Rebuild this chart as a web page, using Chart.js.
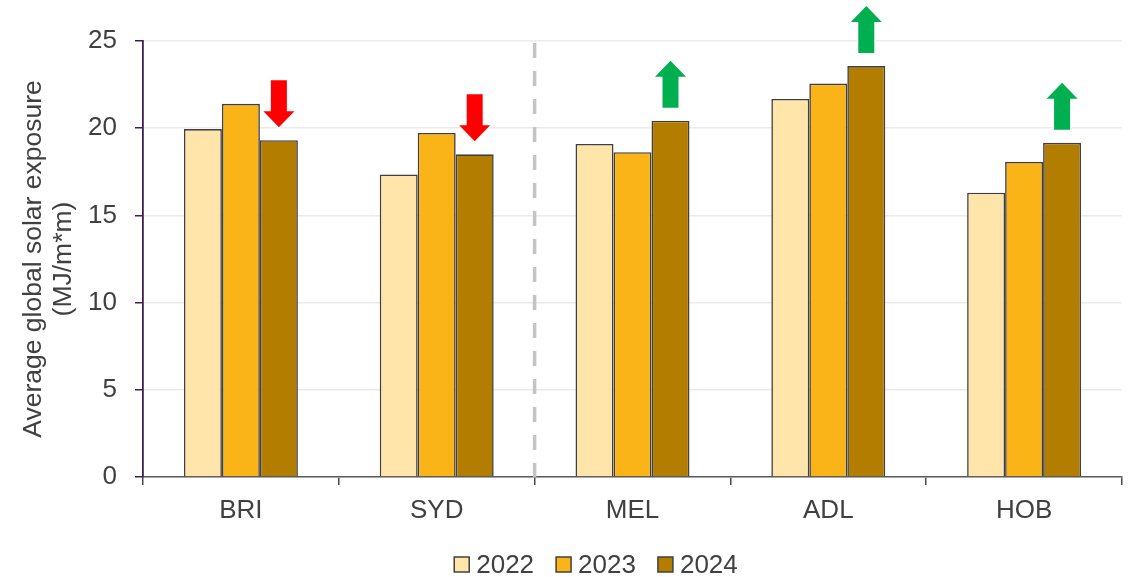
<!DOCTYPE html>
<html>
<head>
<meta charset="utf-8">
<script src="https://cdn.jsdelivr.net/npm/chart.js@4"></script>
<style>
  html, body { margin: 0; padding: 0; background: #fff; }
  #wrap { width: 1135px; height: 577px; position: relative; }
</style>
</head>
<body>
<div id="wrap"><canvas id="solarChart"></canvas></div>
<script>
const cities = ['BRI', 'SYD', 'MEL', 'ADL', 'HOB'];
const years = ['2022', '2023', '2024'];
const exp2022 = [19.95, 17.35, 19.1, 21.68, 16.3];
const exp2023 = [21.4, 19.73, 18.62, 22.56, 18.07];
const exp2024 = [19.31, 18.5, 20.43, 23.56, 19.16];
const yearColors = ['#ffe5a9', '#fbb417', '#b37d00'];
const trend = ['down', 'down', 'up', 'up', 'up'];
const yTicks = [0, 5, 10, 15, 20, 25];

const FONT = '"Liberation Sans", Arial, sans-serif';
Chart.defaults.font.family = FONT;
Chart.defaults.color = '#404040';

// dashed separator between SYD and MEL
const dividerPlugin = {
  id: 'divider',
  beforeDatasetsDraw(chart) {
    const { ctx, chartArea, scales: { x } } = chart;
    const px = (x.getPixelForValue(1) + x.getPixelForValue(2)) / 2;
    ctx.save();
    ctx.strokeStyle = '#c4c4c4';
    ctx.lineWidth = 3.5;
    ctx.setLineDash([15, 13]);
    ctx.beginPath();
    ctx.moveTo(px, chartArea.top + 2);
    ctx.lineTo(px, chartArea.bottom);
    ctx.stroke();
    ctx.restore();
  }
};

// up / down arrows above the 2024 bars
const arrowPlugin = {
  id: 'arrows',
  afterDatasetsDraw(chart) {
    const ctx = chart.ctx;
    const meta = chart.getDatasetMeta(2);
    const gap = 13, h = 47, head = 16, shaftW = 16, headW = 31;
    meta.data.forEach((bar, i) => {
      const dir = trend[i];
      if (!dir) return;
      const x = bar.x;
      const bottom = bar.y - gap;
      const top = bottom - h;
      ctx.save();
      ctx.beginPath();
      if (dir === 'up') {
        ctx.moveTo(x, top);
        ctx.lineTo(x + headW / 2, top + head);
        ctx.lineTo(x + shaftW / 2, top + head);
        ctx.lineTo(x + shaftW / 2, bottom);
        ctx.lineTo(x - shaftW / 2, bottom);
        ctx.lineTo(x - shaftW / 2, top + head);
        ctx.lineTo(x - headW / 2, top + head);
      } else {
        ctx.moveTo(x, bottom);
        ctx.lineTo(x + headW / 2, bottom - head);
        ctx.lineTo(x + shaftW / 2, bottom - head);
        ctx.lineTo(x + shaftW / 2, top);
        ctx.lineTo(x - shaftW / 2, top);
        ctx.lineTo(x - shaftW / 2, bottom - head);
        ctx.lineTo(x - headW / 2, bottom - head);
      }
      ctx.closePath();
      ctx.strokeStyle = '#ffffff';
      ctx.lineWidth = 3;
      ctx.stroke();
      ctx.fillStyle = dir === 'up' ? '#00b050' : '#ff0000';
      ctx.fill();
      ctx.restore();
    });
  }
};

// legend drawn under the axis
const legendPlugin = {
  id: 'bottomLegend',
  afterDraw(chart) {
    const ctx = chart.ctx;
    const sets = chart.data.datasets;
    ctx.save();
    ctx.font = '26px ' + FONT;
    const widths = sets.map(d => ctx.measureText(d.label).width);
    const itemW = widths.map(w => 22 + w);
    const total = itemW.reduce((a, b) => a + b, 0) + 22 * (sets.length - 1);
    let x = 596 - total / 2;
    const cy = 564.5;
    sets.forEach((d, i) => {
      ctx.fillStyle = d.backgroundColor;
      ctx.fillRect(x, cy - 7.5, 15, 15);
      ctx.strokeStyle = '#404040';
      ctx.lineWidth = 1.5;
      ctx.strokeRect(x, cy - 7.5, 15, 15);
      ctx.fillStyle = '#404040';
      ctx.textBaseline = 'middle';
      ctx.textAlign = 'left';
      ctx.fillText(d.label, x + 22, cy + 1);
      x += itemW[i] + 22;
    });
    ctx.restore();
  }
};

new Chart(document.getElementById('solarChart'), {
  type: 'bar',
  data: {
    labels: cities,
    datasets: [exp2022, exp2023, exp2024].map((vals, i) => ({
      label: years[i],
      data: vals,
      backgroundColor: yearColors[i],
      borderColor: '#404040',
      borderWidth: 1.6,
      categoryPercentage: 0.582,
      barPercentage: 1
    }))
  },
  options: {
    responsive: true,
    maintainAspectRatio: false,
    animation: false,
    layout: { padding: { top: 41, right: 13, bottom: 50, left: 0 } },
    plugins: {
      legend: { display: false },
      tooltip: { enabled: false }
    },
    scales: {
      x: {
        grid: { display: true, drawOnChartArea: false, drawTicks: true, tickLength: 8, color: '#4a4a4a', lineWidth: 1.5 },
        border: { display: true, color: '#5a5a5a', width: 1.5 },
        ticks: { font: { size: 26 }, color: '#404040', padding: 10 },
        afterFit(s) { s.height = 50; }
      },
      y: {
        min: 0,
        max: 25,
        afterBuildTicks(s) { s.ticks = yTicks.map(v => ({ value: v })); },
        grid: { color: '#ebebeb', lineWidth: 1.5, tickColor: '#3d1f52', tickLength: 8, drawTicks: true },
        border: { display: true, color: '#3d1f52', width: 1.8 },
        ticks: { font: { size: 26 }, color: '#404040', padding: 18 },
        title: {
          display: true,
          text: ['Average global solar exposure', '(MJ/m*m)'],
          font: { size: 26.5, lineHeight: 1.15 },
          color: '#404040',
          padding: { top: 18, bottom: 0 }
        },
        afterFit(s) { s.width = 143; }
      }
    }
  },
  plugins: [dividerPlugin, arrowPlugin, legendPlugin]
});
</script>
</body>
</html>
